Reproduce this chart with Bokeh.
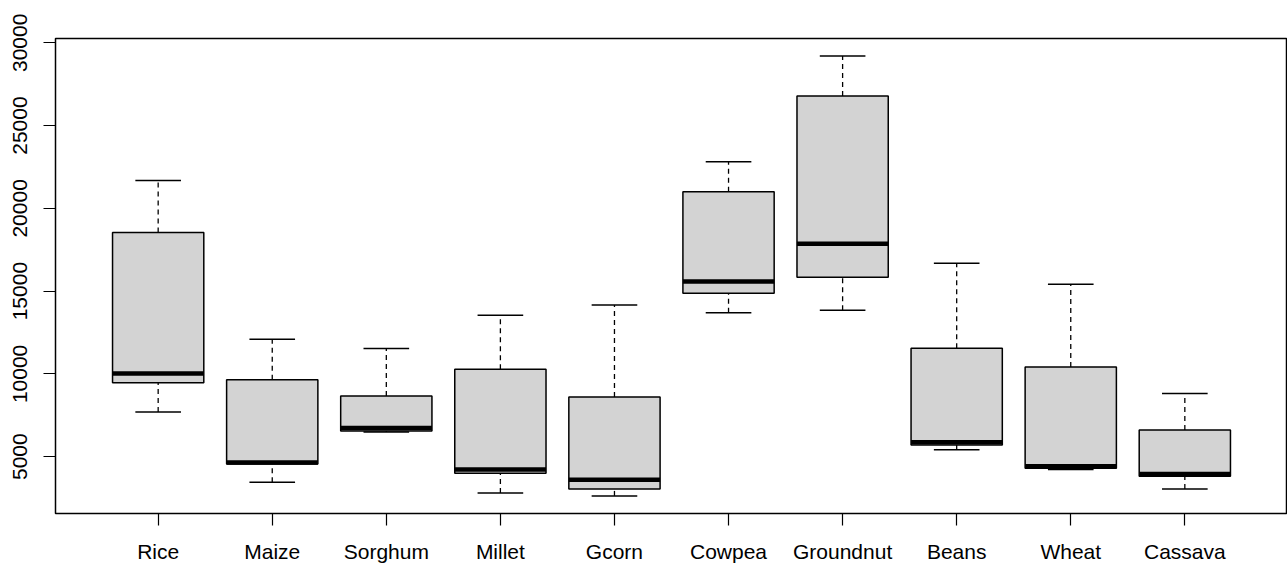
import math
from bokeh.plotting import figure
from bokeh.models import ColumnDataSource, Range1d, FixedTicker
from bokeh.embed import file_html
from bokeh.resources import INLINE

crops = ["Rice", "Maize", "Sorghum", "Millet", "Gcorn", "Cowpea", "Groundnut", "Beans", "Wheat", "Cassava"]
lower_whisker = [7700, 3450, 6490, 2800, 2630, 13700, 13840, 5420, 4220, 3040]
q1 = [9460, 4560, 6550, 4000, 3040, 14880, 15840, 5700, 4300, 3820]
median = [10020, 4650, 6730, 4220, 3600, 15580, 17870, 5870, 4420, 3960]
q3 = [18550, 9640, 8670, 10280, 8610, 21000, 26790, 11550, 10420, 6610]
upper_whisker = [21690, 12090, 11530, 13540, 14160, 22810, 29200, 16690, 15420, 8820]
y_ticks = [5000, 10000, 15000, 20000, 25000, 30000]

pos = list(range(1, len(crops) + 1))
box_w = 0.8
cap_w = 0.4

src = ColumnDataSource(dict(
    x=pos,
    x0=[p - box_w / 2 for p in pos],
    x1=[p + box_w / 2 for p in pos],
    c0=[p - cap_w / 2 for p in pos],
    c1=[p + cap_w / 2 for p in pos],
    lw=lower_whisker, q1=q1, med=median, q3=q3, uw=upper_whisker,
))

lo = min(lower_whisker)
hi = max(upper_whisker)
pad = (hi - lo) * 0.04
xpad = (len(crops)) * 0.04

p = figure(width=1287, height=565, output_backend="svg", toolbar_location=None,
           x_range=Range1d(0.5 - xpad, len(crops) + 0.5 + xpad),
           y_range=Range1d(lo - pad, hi + pad),
           min_border_left=55, min_border_right=0, min_border_top=38, min_border_bottom=50)
p.background_fill_color = "white"
p.border_fill_color = "white"
p.outline_line_color = "black"
p.outline_line_width = 1.5
p.grid.visible = False

# whiskers (dashed)
p.segment(x0="x", y0="q3", x1="x", y1="uw", source=src, line_color="black",
          line_width=1.3, line_dash="5 4")
p.segment(x0="x", y0="lw", x1="x", y1="q1", source=src, line_color="black",
          line_width=1.3, line_dash="5 4")
# caps
p.segment(x0="c0", y0="uw", x1="c1", y1="uw", source=src, line_color="black", line_width=1.5)
p.segment(x0="c0", y0="lw", x1="c1", y1="lw", source=src, line_color="black", line_width=1.5)
# boxes
p.quad(left="x0", right="x1", bottom="q1", top="q3", source=src,
       fill_color="#d3d3d3", line_color="black", line_width=1.5)
# medians
p.segment(x0="x0", y0="med", x1="x1", y1="med", source=src, line_color="black", line_width=4.5)

font = "Liberation Sans"
for ax in (p.xaxis[0], p.yaxis[0]):
    ax.axis_line_color = None
    ax.major_tick_line_color = "black"
    ax.major_tick_line_width = 1.2
    ax.major_tick_in = 0
    ax.major_tick_out = 12
    ax.minor_tick_line_color = None
    ax.major_label_text_font = font
    ax.major_label_text_font_size = "21px"
    ax.major_label_text_color = "black"

p.xaxis[0].ticker = FixedTicker(ticks=pos)
p.xaxis[0].major_label_overrides = {i: c for i, c in zip(pos, crops)}
p.xaxis[0].major_label_standoff = 14
p.yaxis[0].ticker = FixedTicker(ticks=y_ticks)
p.yaxis[0].major_label_orientation = "vertical"
p.yaxis[0].major_label_standoff = 16

open("out.html", "w").write(file_html(p, INLINE))
